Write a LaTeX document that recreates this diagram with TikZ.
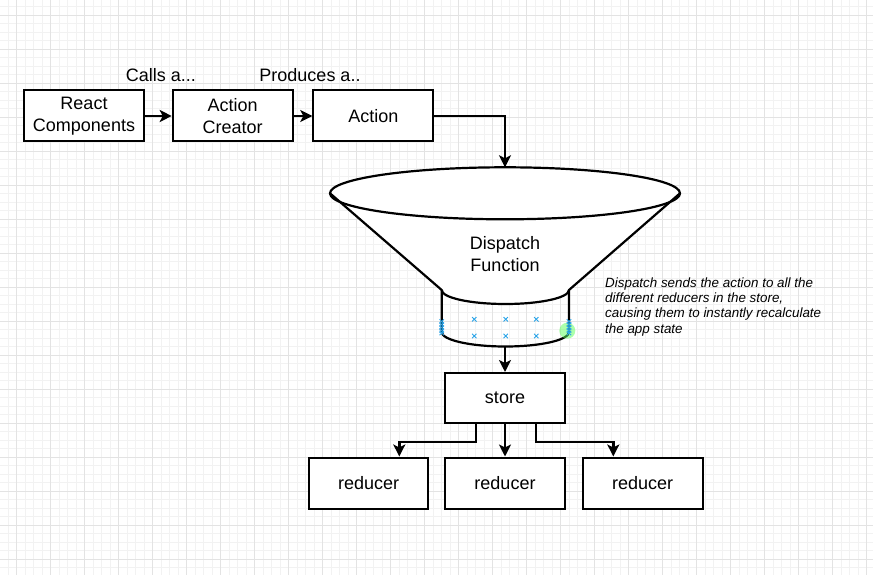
\documentclass[tikz,border=0pt]{standalone}
\usepackage{fontspec}
\setmainfont{Liberation Sans}
\usetikzlibrary{arrows.meta,calc}
\definecolor{gridmajor}{HTML}{E3E3E3}
\definecolor{gridminor}{HTML}{F2F2F2}
\definecolor{selblue}{HTML}{2AA4E8}
\tikzset{
  box/.style={draw, line width=2pt, fill=white, minimum width=120pt, minimum height=51pt,
    inner sep=0pt, align=center, font=\fontsize{18}{22}\selectfont},
  conn/.style={line width=2.4pt, -{Stealth[length=12pt,width=12pt,inset=3pt]}},
  lbl/.style={font=\fontsize{18}{22}\selectfont, inner sep=0pt},
  notetext/.style={font=\fontsize{13.4}{15.3}\selectfont\itshape, align=left, inner sep=0pt, anchor=north west},
  shapeline/.style={line width=2.2pt, line join=round},
  selx/.style={selblue, line width=0.9pt},
}
\begin{document}
\begin{tikzpicture}[x=1pt,y=-1pt]
\useasboundingbox (0,0) rectangle (873,575);
% background grid
\fill[white] (0,0) rectangle (873,575);
\foreach \k in {-1,...,101} \draw[gridminor, line width=0.8pt] ({16.5+8.5*\k},0) -- ({16.5+8.5*\k},575);
\foreach \k in {-1,...,66} \draw[gridminor, line width=0.8pt] (0,{15+8.5*\k}) -- (873,{15+8.5*\k});
\foreach \k in {0,...,25} \draw[gridmajor, line width=0.8pt] ({16.5+34*\k},0) -- ({16.5+34*\k},575);
\foreach \k in {0,...,16} \draw[gridmajor, line width=0.8pt] (0,{15+34*\k}) -- (873,{15+34*\k});

% top row
\node[box] (rc) at (84,116) {React\\Components};
\node[box] (ac) at (232.7,116) {Action\\Creator};
\node[box] (act) at (373.3,116) {Action};
\node[lbl] (l1) at (161,75.5) {Calls a...};
\node[lbl] (l2) at (310,75.5) {Produces a..};

% funnel
\fill[white] (330,193.3) -- (441.7,290) arc[start angle=180, end angle=360, x radius=63.65pt, y radius=14pt] -- (680,193.3) -- cycle;
\fill[white] (505,193.3) ellipse[x radius=175pt, y radius=26pt];
\draw[shapeline] (505,193.3) ellipse[x radius=175pt, y radius=26pt];
\draw[shapeline] (330,193.3) -- (441.7,290) -- (441.7,332)
  arc[start angle=180, end angle=360, x radius=63.65pt, y radius=14.5pt] -- (569,290) -- (680,193.3);
\draw[shapeline] (441.7,290) arc[start angle=180, end angle=360, x radius=63.65pt, y radius=14pt];
\node[lbl, align=center] (disp) at (505,254.5) {Dispatch\\Function};
\coordinate (ftop) at (505,167.3);
\coordinate (fbot) at (505,346.5);

% selection marks
\fill[green!65, opacity=0.5] (567.3,330.7) circle[radius=8pt];
\foreach \p in {(474.3,319.3),(505.7,319.3),(536.3,319.3),(474.3,336),(505.7,336),(536.3,336),
  (441.7,321.5),(441.7,324.5),(441.7,327.5),(441.7,330.5),(441.7,333),(569,321.5),(569,324.5),(569,327.5),(569,330.5),(569,333)}
  \draw[selx] \p +(-2.2,-2.2) -- +(2.2,2.2) +(-2.2,2.2) -- +(2.2,-2.2);

\node[notetext] (note) at (605,277.3) {Dispatch sends the action to all the\\different reducers in the store,\\causing them to instantly recalculate\\the app state};

% store and reducers
\node[box, minimum height=50pt] (store) at (505,398) {store};
\node[box, minimum width=119pt] (r1) at (368.7,483) {reducer};
\node[box] (r2) at (505,483) {reducer};
\node[box] (r3) at (642.7,483) {reducer};

% connectors
\draw[conn] (rc.east) -- (ac.west);
\draw[conn] (ac.east) -- (act.west);
\draw[conn] (act.east) -| (ftop);
\draw[conn] (fbot) -- (store.north);
\draw[conn] ([xshift=-29.3pt]store.south) -- ++(0,18) -| ([xshift=30.6pt]r1.north);
\draw[conn] (store.south) -- (r2.north);
\draw[conn] ([xshift=30.7pt]store.south) -- ++(0,18) -| ([xshift=-29.4pt]r3.north);
\end{tikzpicture}
\end{document}
